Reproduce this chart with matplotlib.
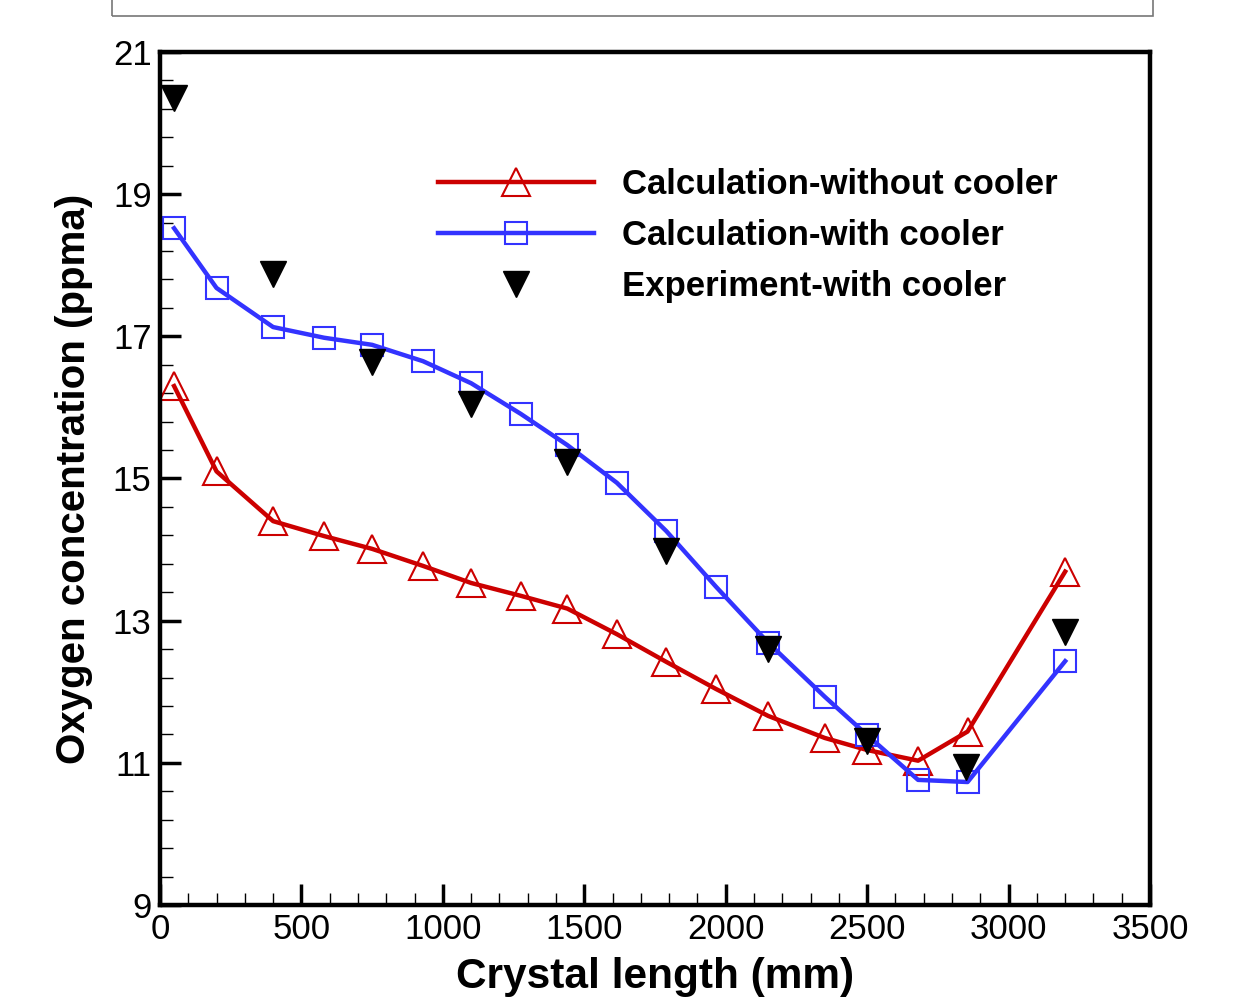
import matplotlib
matplotlib.use('Agg')
import matplotlib.pyplot as plt
from matplotlib.patches import Rectangle
from matplotlib.ticker import MultipleLocator

# crystal length positions (mm) and oxygen concentration (ppma)
length_calc = [50, 200, 400, 580, 750, 930, 1100, 1275, 1440, 1615,
               1790, 1965, 2150, 2350, 2500, 2680, 2855, 3200]
o2_no_cooler = [16.30, 15.10, 14.40, 14.19, 14.01, 13.77, 13.53, 13.35, 13.17, 12.81,
                12.42, 12.04, 11.66, 11.35, 11.18, 11.03, 11.44, 13.69]
o2_cooler = [18.52, 17.68, 17.13, 16.98, 16.88, 16.65, 16.34, 15.91, 15.47, 14.94,
             14.26, 13.48, 12.69, 11.93, 11.39, 10.76, 10.73, 12.43]

length_exp = [50, 400, 750, 1100, 1440, 1790, 2150, 2500, 2850, 3200]
o2_exp = [20.35, 17.88, 16.64, 16.05, 15.23, 13.98, 12.60, 11.30, 10.94, 12.84]

plt.rcParams['font.family'] = ['Liberation Sans', 'DejaVu Sans']

fig = plt.figure(figsize=(12.37, 10.07), dpi=100)
ax = fig.add_axes([0.1293, 0.1013, 0.8004, 0.8471])

# frame of the panel above, cut off at the top edge
fig.patches.append(Rectangle((112 / 1237, 1 - 16 / 1007), (1153 - 112) / 1237, 0.05,
                             transform=fig.transFigure, fill=False,
                             edgecolor='#777777', linewidth=1.2))

ax.plot(length_calc, o2_no_cooler, color='#cc0000', linewidth=3.2,
        marker='^', markersize=20, fillstyle='none', markeredgewidth=1.5,
        label='Calculation-without cooler')
ax.plot(length_calc, o2_cooler, color='#3333ff', linewidth=3.2,
        marker='s', markersize=16.5, fillstyle='none', markeredgewidth=1.5,
        label='Calculation-with cooler')
ax.plot(length_exp, o2_exp, linestyle='none', color='black',
        marker='v', markersize=19, label='Experiment-with cooler', zorder=5)

ax.set_xlim(0, 3500)
ax.set_ylim(9, 21)
ax.xaxis.set_major_locator(MultipleLocator(500))
ax.xaxis.set_minor_locator(MultipleLocator(100))
ax.set_yticks(range(9, 22, 2))
ax.yaxis.set_minor_locator(MultipleLocator(0.4, offset=0.2))

ax.tick_params(which='both', direction='in', top=False, right=False,
               labelsize=25, pad=6)
ax.tick_params(which='major', length=15, width=2.5)
ax.tick_params(which='minor', length=9, width=1)
for sp in ax.spines.values():
    sp.set_linewidth(3.2)

ax.set_xlabel('Crystal length (mm)', fontsize=30.5, fontweight='bold', labelpad=8)
ax.set_ylabel('Oxygen concentration (ppma)', fontsize=29, fontweight='bold', labelpad=14)

ax.legend(loc='upper left', bbox_to_anchor=(0.281, 0.864), frameon=False,
          prop={'weight': 'bold', 'size': 25}, numpoints=1,
          handlelength=4.5, handletextpad=0.8, labelspacing=0.52,
          borderpad=0, borderaxespad=0)

plt.savefig('out.png', dpi=100)
